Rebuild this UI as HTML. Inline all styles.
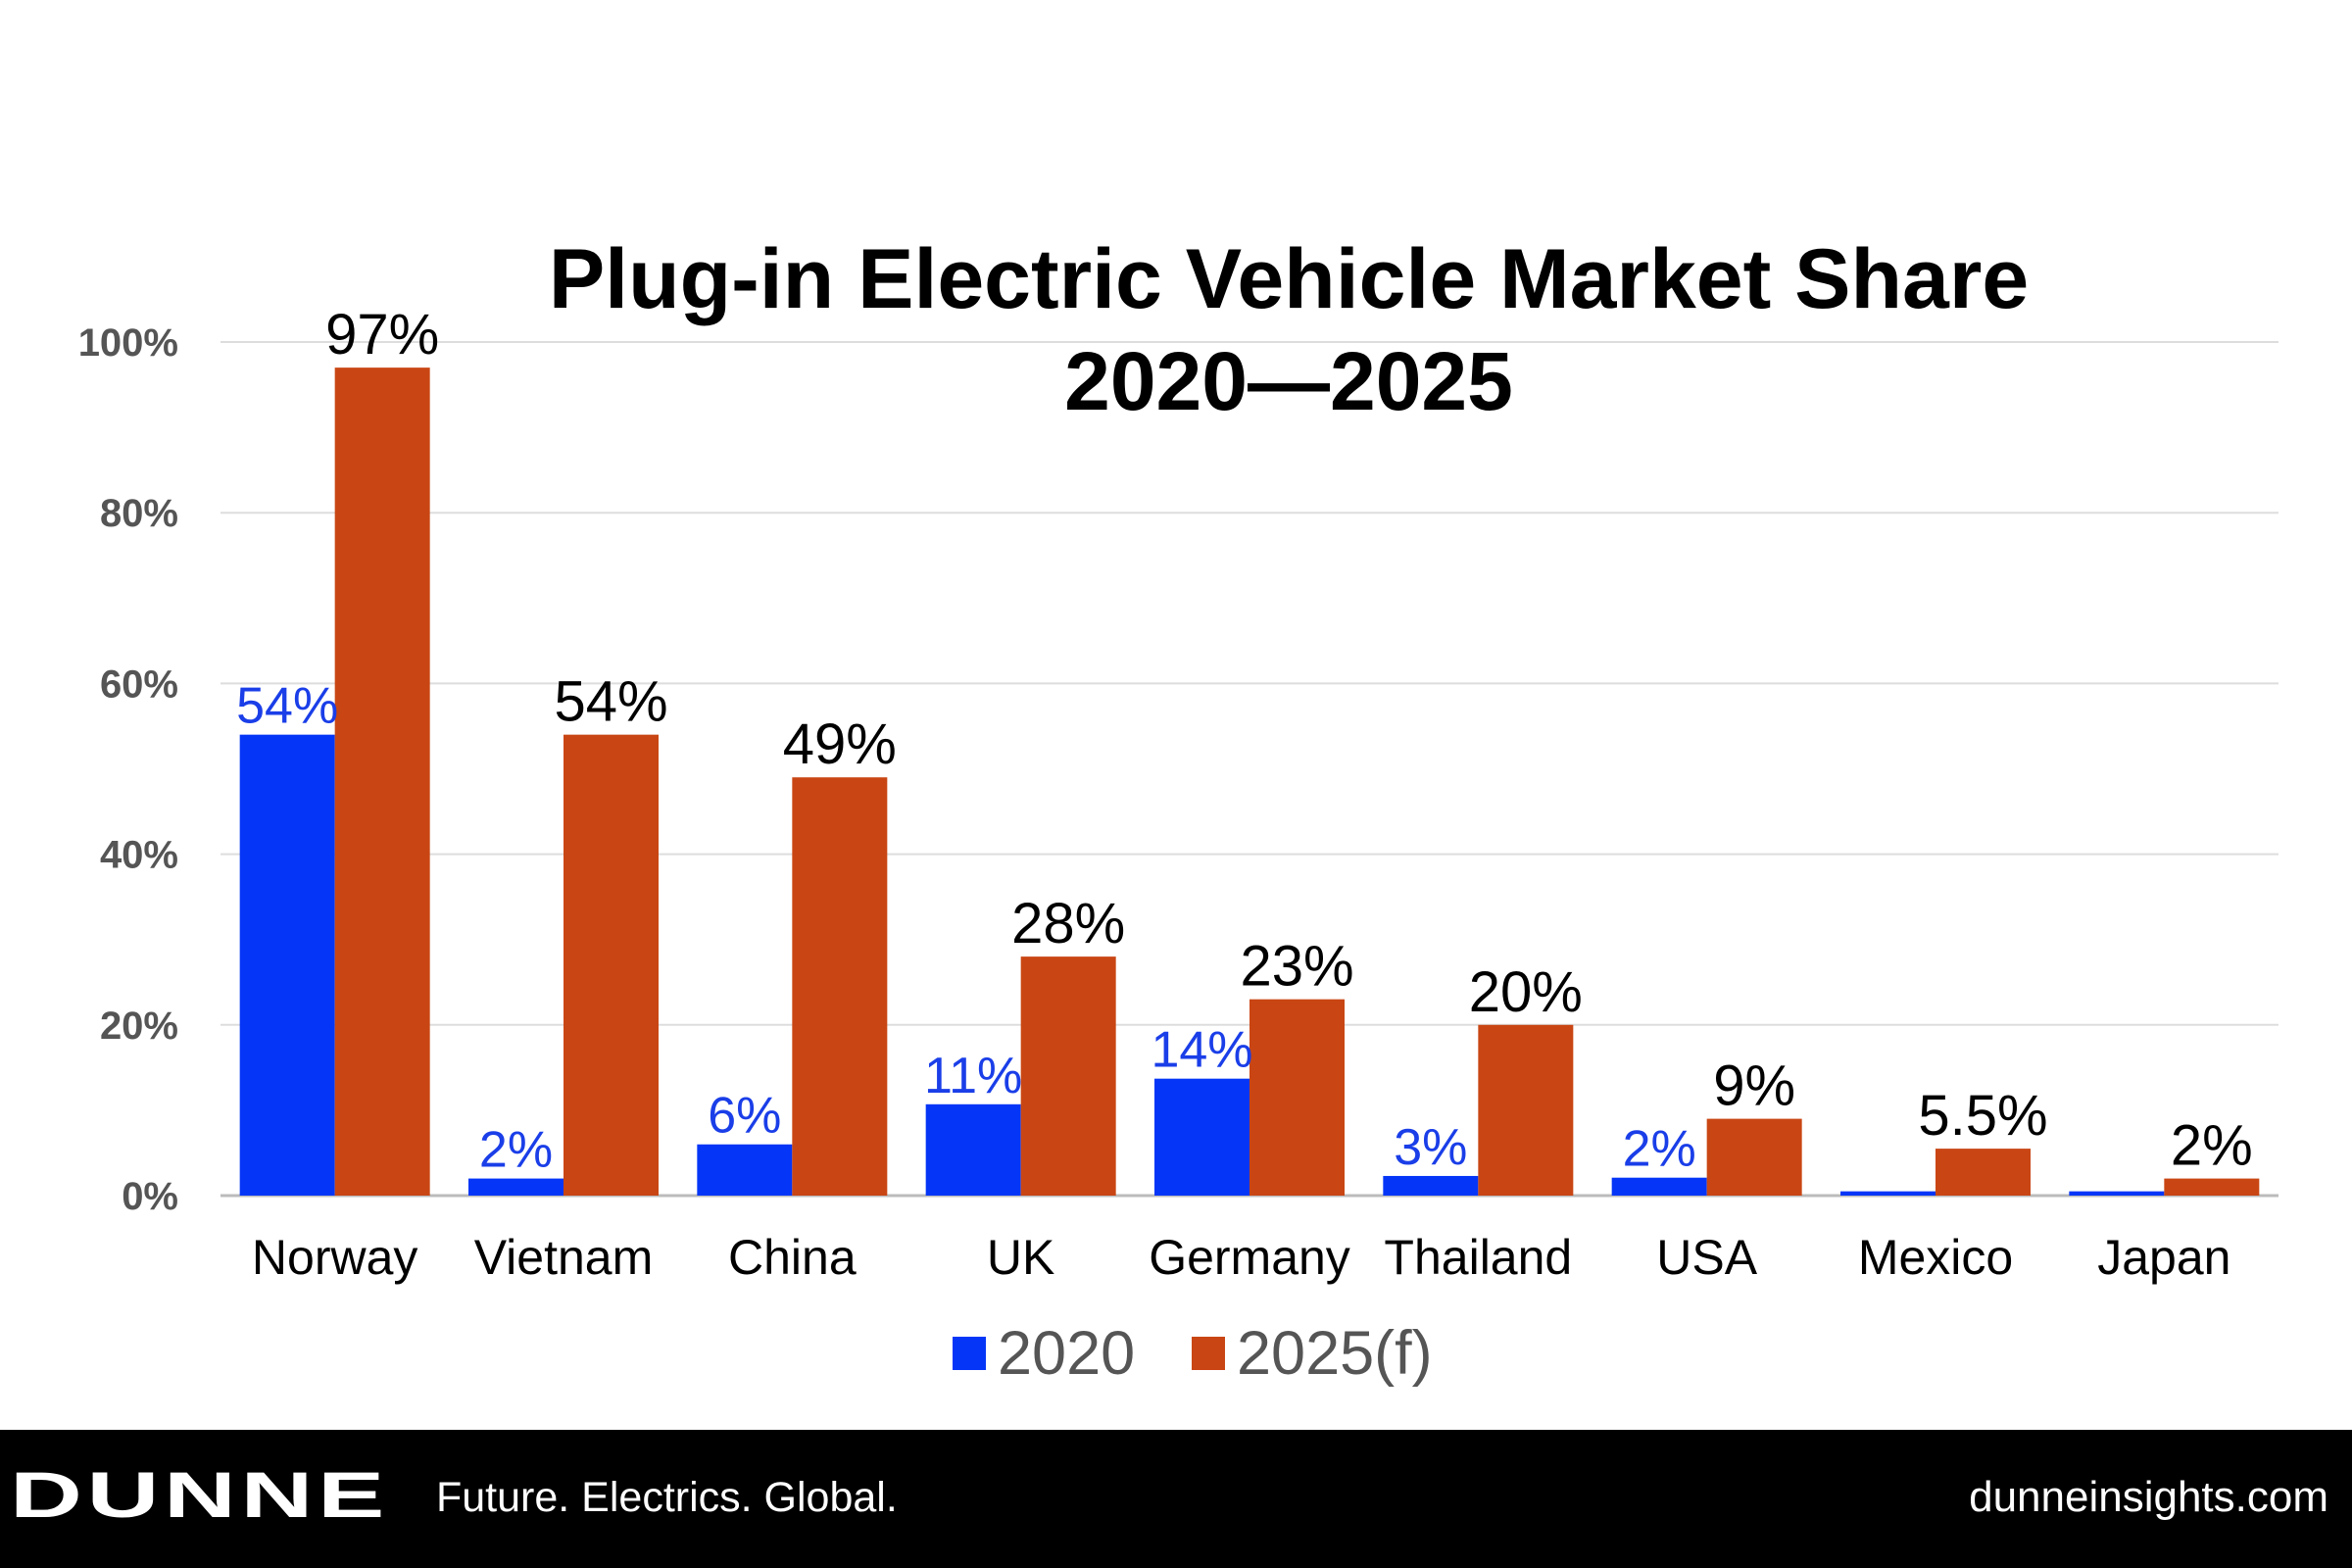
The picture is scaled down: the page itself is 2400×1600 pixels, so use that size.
<!DOCTYPE html>
<html><head><meta charset="utf-8"><style>
html,body{margin:0;padding:0;background:#fff;}
svg{display:block;font-family:"Liberation Sans",Arial,sans-serif;}
</style></head><body>
<svg id="chart" width="2400" height="1600" viewBox="0 0 2400 1600">
  <text x="1315" y="314" text-anchor="middle" font-size="86" font-weight="bold" fill="#000">Plug-in Electric Vehicle Market Share</text>
  <text x="1315" y="418" text-anchor="middle" font-size="84" font-weight="bold" fill="#000">2020—2025</text>
  <g id="grid"></g>
  <g id="yticks"></g>
  <g id="bars"></g>
  <g id="xlabels"></g>
  <g>
    <rect x="972" y="1364" width="34" height="34" fill="#0536f7"/>
    <text x="1018" y="1402" font-size="63" fill="#555">2020</text>
    <rect x="1216" y="1364" width="34" height="34" fill="#c94614"/>
    <text x="1262" y="1402" font-size="63" fill="#555">2025(f)</text>
  </g>
  <rect x="0" y="1459" width="2400" height="141" fill="#000"/>
  <text x="10" y="1548" font-size="66" font-weight="bold" fill="#fff" transform="translate(10 0) scale(1.55 1) translate(-10 0)" letter-spacing="3">DUNNE</text>
  <text x="445" y="1542" font-size="43" fill="#fff">Future. Electrics. Global.</text>
  <text x="2376" y="1542" font-size="44" fill="#fff" text-anchor="end">dunneinsights.com</text>
</svg>
<script>
const categories = ["Norway","Vietnam","China","UK","Germany","Thailand","USA","Mexico","Japan"];
const values2020 = [54,2,6,10.7,13.7,2.3,2.1,0.5,0.5];
const values2025 = [97,54,49,28,23,20,9,5.5,2];
const labels2020 = ["54%","2%","6%","11%","14%","3%","2%","",""];
const labels2025 = ["97%","54%","49%","28%","23%","20%","9%","5.5%","2%"];
const yTicks = [0,20,40,60,80,100];

const NS="http://www.w3.org/2000/svg";
const x0=225, x1=2325, yBase=1220, yTop=349;
const groupW=(x1-x0)/categories.length, barW=97;
function y(v){return yBase-(yBase-yTop)*v/100;}
function gx(i){return x0+groupW*(i+0.5);}
function mk(tag,attrs,parent,text){const e=document.createElementNS(NS,tag);for(const k in attrs)e.setAttribute(k,attrs[k]);if(text!==undefined)e.textContent=text;parent.appendChild(e);return e;}
const grid=document.getElementById('grid'),yt=document.getElementById('yticks'),bars=document.getElementById('bars'),xl=document.getElementById('xlabels');
yTicks.forEach(t=>{
  const l=mk('line',{x1:x0,x2:x1,y1:y(t),y2:y(t),stroke:t===0?'#bbb':'#ddd','stroke-width':t===0?3:2},grid);
  
  
  const tx=mk('text',{x:182,y:y(t)+14,'text-anchor':'end','font-size':40,'font-weight':'bold',fill:'#555'},yt,t+'%');
  
  
});
categories.forEach((c,i)=>{
  const cx=gx(i);
  const b1=mk('rect',{x:cx-barW,y:y(values2020[i]),width:barW,height:yBase-y(values2020[i]),fill:'#0536f7'},bars);
  
  
  const b2=mk('rect',{x:cx,y:y(values2025[i]),width:barW,height:yBase-y(values2025[i]),fill:'#c94614'},bars);
  
  
  if(labels2020[i]){
    const t1=mk('text',{x:cx-barW/2,y:y(values2020[i])-12,'text-anchor':'middle','font-size':52,fill:'#1a3ee8'},bars,labels2020[i]);
    
    
  }
  const t2=mk('text',{x:cx+barW/2,y:y(values2025[i])-14,'text-anchor':'middle','font-size':58,fill:'#000'},bars,labels2025[i]);
  
  
  const xt=mk('text',{x:cx,y:1300,'text-anchor':'middle','font-size':50,fill:'#000'},xl,c);
  
  
});
</script>
</body></html>
